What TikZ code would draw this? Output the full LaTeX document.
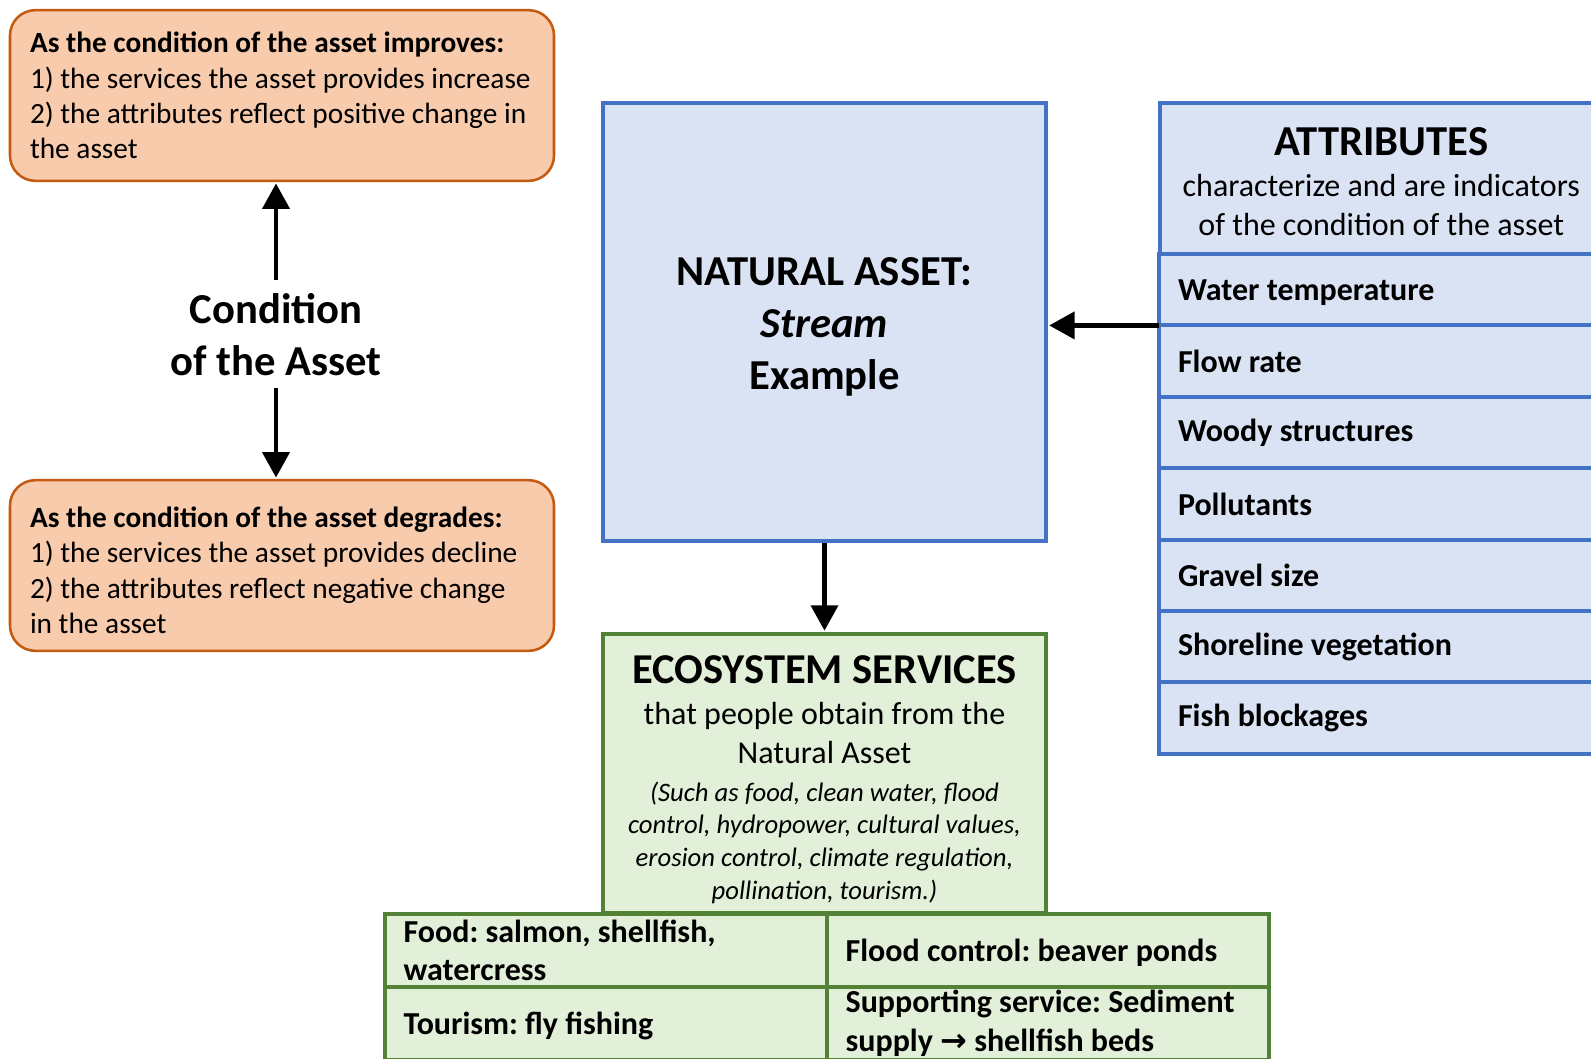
\documentclass[tikz,border=0pt]{standalone}
\usepackage{fontspec}
\setmainfont{Carlito}
\newfontfamily\arrowfont{DejaVu Sans}
\usetikzlibrary{positioning,arrows.meta}
\AtBeginDocument{\frenchspacing}

\definecolor{peach}{HTML}{F8CBAD}
\definecolor{rust}{HTML}{C55A11}
\definecolor{paleblue}{HTML}{DAE3F3}
\definecolor{midblue}{HTML}{4472C4}
\definecolor{palegreen}{HTML}{E2F0D9}
\definecolor{darkgreen}{HTML}{538135}

\begin{document}
\begin{tikzpicture}[x=0.75pt,y=-0.75pt,
	condbox/.style={draw=rust,fill=peach,line width=1.9pt,rounded corners=19pt,
		minimum width=408pt,minimum height=128pt,inner xsep=15pt,text width=378pt,
		align=flush left,font=\fontsize{22}{26.4}\selectfont},
	assetbox/.style={draw=midblue,fill=paleblue,line width=3pt,minimum width=332pt},
	attrrow/.style={assetbox,outer sep=0pt,minimum height=53.55pt,inner xsep=14pt,
		inner ysep=1pt,text width=305pt,align=flush left,font=\fontsize{24}{28}\selectfont\bfseries},
	servbox/.style={draw=darkgreen,fill=palegreen,line width=3pt},
	servcell/.style={servbox,outer sep=0pt,minimum height=54.75pt,inner xsep=14pt,
		inner ysep=1pt,text width=303.5pt,align=flush left,font=\fontsize{24}{29}\selectfont\bfseries},
	bigarrow/.style={line width=3.5pt,-{Triangle[width=20pt,length=19pt]},shorten >=1pt}
	]
	
	\useasboundingbox (0,0) rectangle (1591,1058);
	
	%%%%%%%%%%%%%%%%%%%%%%%%%%%%%%%%%%%%%%%%%%%%%%%%%%%%%%
	
	\node [condbox] (improves) at (282,95.5) {{\bfseries As the condition of the asset improves:}\\
		1) the services the asset provides increase\\
		2) the attributes reflect positive change in\\
		the asset};
	
	\node [condbox] (degrades) at (282,565.5) {\raisebox{7.5pt}{\vphantom{d}}{\bfseries As the condition of the asset degrades:}\\
		1) the services the asset provides decline\\
		2) the attributes reflect negative change\\
		in the asset};
	
	\node [align=center,inner sep=6pt,font=\fontsize{32}{39}\selectfont\bfseries] (condition) at (276,335) {Condition\\of the Asset};
	
	\draw [bigarrow,shorten <=4.5pt] (condition.north) -- (condition.north |- improves.south);
	\draw [bigarrow,shorten <=2.3pt] (condition.south) -- (condition.south |- degrades.north);
	
	%%%%%%%%%%%%%%%%%%%%%%%%%%%%%%%%%%%%%%%%%%%%%%%%%%%%%%
	
	\node [assetbox,minimum height=328.5pt,text width=310pt,align=flush center,font=\fontsize{32}{39}\selectfont\bfseries] (natural) at (824.5,322) {\raisebox{7.5pt}{\vphantom{N}}NATURAL ASSET:\\\textit{Stream}\\Example};
	
	%%%%%%%%%%%%%%%%%%%%%%%%%%%%%%%%%%%%%%%%%%%%%%%%%%%%%%
	
	\node [assetbox,outer sep=0pt,anchor=north west,minimum height=113.25pt,text width=320pt,align=flush center] (attributes) at (1160,103) {%
		{\fontsize{32}{37}\selectfont\bfseries \raisebox{5.25pt}{\vphantom{A}}ATTRIBUTES\par}\vspace{1.75pt}%
		{\fontsize{24}{29}\selectfont characterize and are indicators\\ of the condition of the asset\par}};
	
	\node [attrrow,text depth=0pt,below=0pt of attributes] (water) {Water temperature};
	\node [attrrow,below=0pt of water] (flow) {Flow rate};
	\node [attrrow,below=0pt of flow] (woody) {Woody structures};
	\node [attrrow,below=0pt of woody] (pollutants) {Pollutants};
	\node [attrrow,below=0pt of pollutants] (gravel) {Gravel size};
	\node [attrrow,below=0pt of gravel] (shoreline) {Shoreline vegetation};
	\node [attrrow,below=0pt of shoreline] (blockages) {Fish blockages};
	
	\draw [bigarrow] (water.south west) -- (water.south west -| natural.east);
	
	%%%%%%%%%%%%%%%%%%%%%%%%%%%%%%%%%%%%%%%%%%%%%%%%%%%%%%
	
	\node [servbox,below=66.75pt of natural,minimum width=332pt,minimum height=209pt,text width=318pt,inner xsep=7pt,align=flush center] (services) {%
		{\fontsize{31.9}{37}\selectfont\bfseries \raisebox{9.75pt}{\vphantom{E}}ECOSYSTEM SERVICES\par}\vspace{1.5pt}%
		{\fontsize{24}{29}\selectfont that people obtain from the\\ Natural Asset\par}\vspace{4.25pt}%
		{\fontsize{20}{24.4}\selectfont\itshape (Such as food, clean water, flood\\ control, hydropower, cultural values,\\ erosion control, climate regulation,\\ pollination, tourism.)\par}};
	
	\draw [bigarrow] (natural.south) -- (services.north);
	
	\node [servcell,anchor=north west] (food) at (385,914) {Food: salmon, shellfish,\\ watercress};
	\node [servcell,text depth=0pt,right=0pt of food] (flood) {Flood control: beaver ponds};
	\node [servcell,text depth=0pt,below=0pt of food] (tourism) {Tourism: fly fishing};
	\node [servcell,below=0pt of flood] (supporting) {Supporting service: Sediment\\ supply {\arrowfont →} shellfish beds};
	
\end{tikzpicture}
\end{document}
